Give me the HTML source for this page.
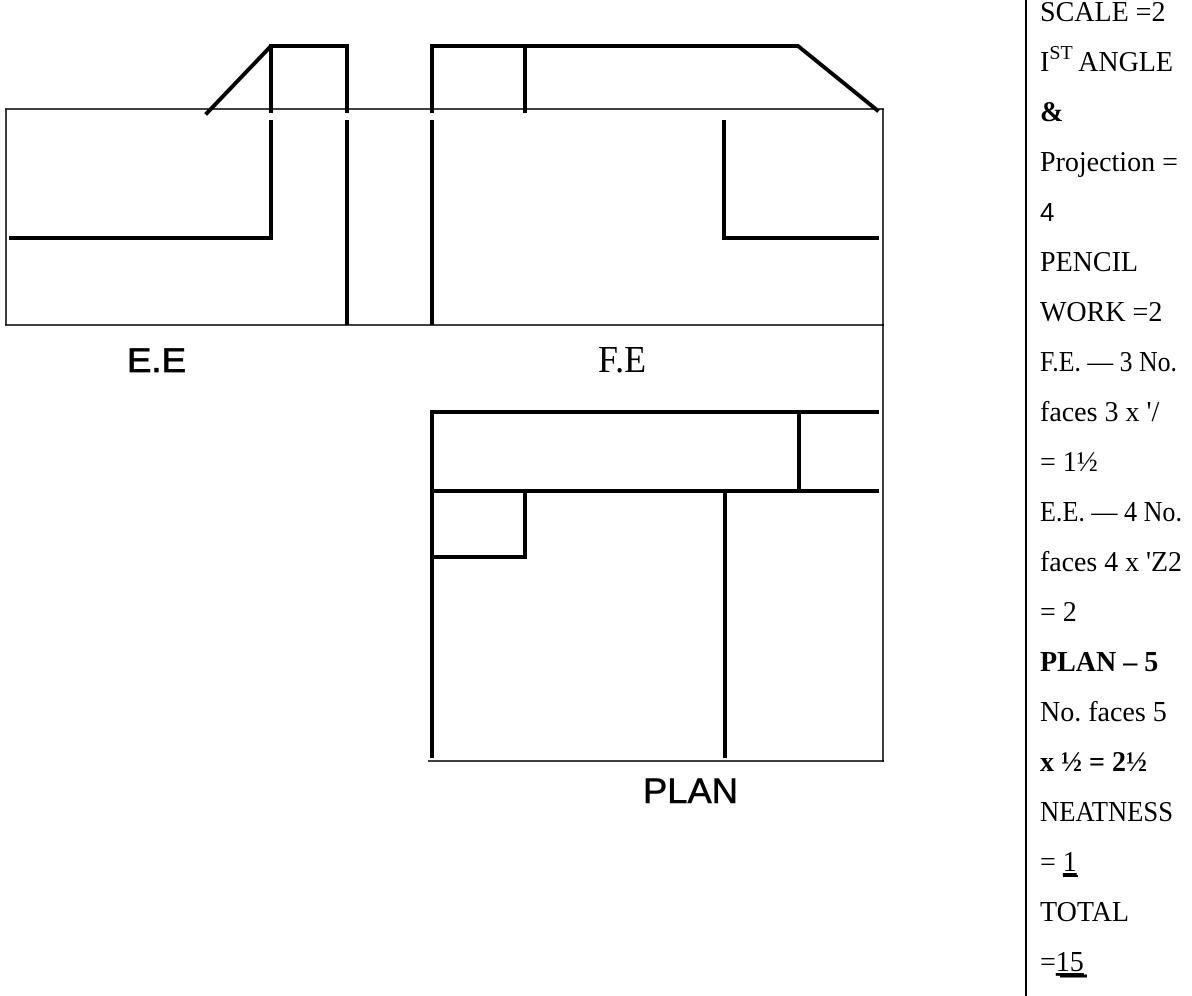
<!DOCTYPE html>
<html><head><meta charset="utf-8"><style>
html,body{margin:0;padding:0;background:#fff;}
svg{display:block;}
.r{font-family:"Liberation Serif",serif;font-size:28px;fill:#000;}
</style></head><body>
<svg width="1192" height="996" viewBox="0 0 1192 996" xmlns="http://www.w3.org/2000/svg">
<g stroke="#000" stroke-width="1.5" fill="none">
<line x1="5" y1="109" x2="884" y2="109"/>
<line x1="6" y1="109" x2="6" y2="325"/>
<line x1="5" y1="325" x2="884" y2="325"/>
<line x1="883" y1="109" x2="883" y2="762"/>
<line x1="428" y1="761" x2="884" y2="761"/>
<line x1="1026" y1="0" x2="1026" y2="996" stroke-width="2"/>
</g>
<g stroke="#000" stroke-width="4" fill="none" stroke-linecap="square">
<polyline points="207,113 271,46 347,46 347,111"/>
<line x1="271" y1="46" x2="271" y2="111"/>
<polyline points="11,238 271,238 271,122"/>
<line x1="347" y1="122" x2="347" y2="323"/>
<polyline points="432,111 432,46 798,46 877,110"/>
<line x1="525" y1="46" x2="525" y2="111"/>
<line x1="432" y1="122" x2="432" y2="323"/>
<polyline points="724,122 724,238 877,238"/>
<polyline points="877,412 432,412 432,756"/>
<line x1="432" y1="491" x2="877" y2="491"/>
<line x1="799" y1="412" x2="799" y2="491"/>
<polyline points="432,557 525,557 525,491"/>
<line x1="725" y1="491" x2="725" y2="756"/>
</g>
<text x="127" y="372" font-family="Liberation Sans, sans-serif" font-size="34" stroke="#000" stroke-width="0.8" textLength="59" lengthAdjust="spacingAndGlyphs">E.E</text>
<text x="598" y="372" font-family="Liberation Serif, serif" font-size="38" textLength="48" lengthAdjust="spacingAndGlyphs">F.E</text>
<text x="643" y="803" font-family="Liberation Sans, sans-serif" font-size="35" stroke="#000" stroke-width="0.6" textLength="95" lengthAdjust="spacingAndGlyphs">PLAN</text>
<g class="r">
<text x="1040" y="21">SCALE =2</text>
<text x="1040" y="71">I<tspan font-size="20" dy="-12">ST</tspan><tspan dy="12"> ANGLE</tspan></text>
<text x="1040" y="121" font-weight="bold">&amp;</text>
<text x="1040" y="171">Projection =</text>
<text x="1040" y="221" font-family="Liberation Sans, sans-serif" font-size="26">4</text>
<text x="1040" y="271">PENCIL</text>
<text x="1040" y="321">WORK =2</text>
<text x="1040" y="371" textLength="137" lengthAdjust="spacingAndGlyphs">F.E. — 3 No.</text>
<text x="1040" y="421">faces 3 x '/</text>
<text x="1040" y="471">= 1½</text>
<text x="1040" y="521" textLength="142" lengthAdjust="spacingAndGlyphs">E.E. — 4 No.</text>
<text x="1040" y="571" textLength="142" lengthAdjust="spacingAndGlyphs">faces 4 x 'Z2</text>
<text x="1040" y="621">= 2</text>
<text x="1040" y="671" font-weight="bold">PLAN – 5</text>
<text x="1040" y="721">No. faces 5</text>
<text x="1040" y="771" font-weight="bold">x ½ = 2½</text>
<text x="1040" y="821" textLength="133" lengthAdjust="spacingAndGlyphs">NEATNESS</text>
<text x="1040" y="871">= <tspan text-decoration="underline">1</tspan></text>
<text x="1040" y="921">TOTAL</text>
<text x="1040" y="971">=<tspan text-decoration="underline">15</tspan></text>
</g>
<line x1="1060" y1="976" x2="1087" y2="976" stroke="#000" stroke-width="3"/>
<line x1="1063" y1="876" x2="1078" y2="876" stroke="#000" stroke-width="2"/>
</svg>
</body></html>
